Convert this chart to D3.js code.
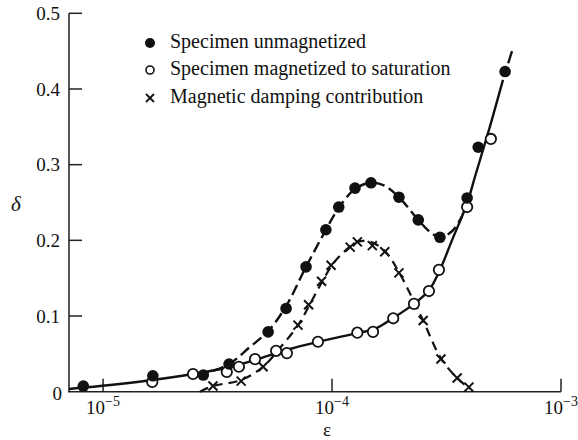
<!DOCTYPE html>
<html><head><meta charset="utf-8">
<script src="https://cdn.jsdelivr.net/npm/d3@7"></script>
<style>body{margin:0;background:#fff}svg{display:block}svg text{font-family:'Liberation Serif','Times New Roman',Times,Tinos,'DejaVu Serif','Noto Serif',serif;fill:#111}</style>
</head><body><svg id="c" width="578" height="440"></svg>
<script>
// Data points [epsilon, delta]
const unmagnetized = [[8.2e-6,0.0075],[1.65e-5,0.021],[2.74e-5,0.022],[3.55e-5,0.0366],[5.26e-5,0.079],[6.3e-5,0.110],[7.7e-5,0.165],[9.4e-5,0.214],[1.07e-4,0.244],[1.26e-4,0.269],[1.48e-4,0.276],[1.96e-4,0.257],[2.38e-4,0.227],[2.96e-4,0.204],[3.89e-4,0.256],[4.35e-4,0.323],[5.7e-4,0.423]];
const magnetized = [[1.64e-5,0.0128],[2.47e-5,0.0234],[3.47e-5,0.026],[3.92e-5,0.033],[4.61e-5,0.043],[5.7e-5,0.054],[6.35e-5,0.051],[8.68e-5,0.066],[1.29e-4,0.078],[1.51e-4,0.079],[1.85e-4,0.097],[2.28e-4,0.116],[2.65e-4,0.133],[2.93e-4,0.161],[3.89e-4,0.244],[4.94e-4,0.334]];
const damping = [[3.02e-5,0.0075],[4.01e-5,0.014],[5.0e-5,0.033],[7.1e-5,0.088],[7.9e-5,0.115],[9.0e-5,0.146],[9.9e-5,0.167],[1.2e-4,0.191],[1.29e-4,0.198],[1.5e-4,0.193],[1.7e-4,0.185],[1.96e-4,0.157],[2.5e-4,0.094],[2.99e-4,0.0432],[3.52e-4,0.018],[3.96e-4,0.006]];
// Fitted curves
const solidCurve = [[7.1e-6,0.0036],[9.7e-6,0.0075],[1.64e-5,0.0155],[2.47e-5,0.0234],[3.59e-5,0.0326],[4.61e-5,0.0419],[6.56e-5,0.0564],[8.69e-5,0.0657],[1.29e-4,0.0775],[1.54e-4,0.083],[1.85e-4,0.0974],[2.28e-4,0.116],[2.65e-4,0.134],[2.96e-4,0.161],[3.34e-4,0.200],[3.89e-4,0.249],[4.21e-4,0.284],[4.9e-4,0.351],[5.58e-4,0.412]];
const solidTail = [[5.88e-4,0.434],[6.11e-4,0.450]];
const unmagCurve = [[2.6e-5,0.0207],[3.55e-5,0.0366],[4.38e-5,0.0591],[5.26e-5,0.080],[6.3e-5,0.113],[7.7e-5,0.165],[9.41e-5,0.214],[1.07e-4,0.243],[1.26e-4,0.268],[1.48e-4,0.276],[1.7e-4,0.272],[1.96e-4,0.257],[2.38e-4,0.227],[2.68e-4,0.211],[2.96e-4,0.204],[3.34e-4,0.212],[3.7e-4,0.232]];
const dampCurve = [[2.65e-5,0.0],[3.02e-5,0.0075],[4.01e-5,0.0155],[5.0e-5,0.033],[5.93e-5,0.058],[7.11e-5,0.088],[8.02e-5,0.116],[9.04e-5,0.145],[1.01e-4,0.169],[1.14e-4,0.186],[1.29e-4,0.198],[1.47e-4,0.198],[1.7e-4,0.186],[1.96e-4,0.158],[2.23e-4,0.125],[2.5e-4,0.094],[2.99e-4,0.044],[3.52e-4,0.018],[4.01e-4,0.0036]];
const yTicks = [0.1,0.2,0.3,0.4,0.5];
const yTickLabels = ["0.1","0.2","0.3","0.4","0.5"];
const xTicks = [1e-5,1e-4,1e-3];
const xTickExp = ["\u22125","\u22124","\u22123"];
const legendLabels = ["Specimen unmagnetized","Specimen magnetized to saturation","Magnetic damping contribution"];

const svg = d3.select("#c");
const x = d3.scaleLog().domain([7.1e-6,1e-3]).range([69,561]);
const y = d3.scaleLinear().domain([0,0.5]).range([391.7,13.3]);

// axes
svg.append("line").attr("x1",69).attr("x2",69).attr("y1",y(0.5)).attr("y2",y(0)).attr("stroke","#555").attr("stroke-width",2);
svg.append("line").attr("x1",68).attr("x2",x(1e-3)).attr("y1",y(0)).attr("y2",y(0)).attr("stroke","#222").attr("stroke-width",1.6);
const gy = svg.append("g");
yTicks.forEach((t,i)=>{
  gy.append("line").attr("x1",69).attr("x2",82).attr("y1",y(t)).attr("y2",y(t)).attr("stroke","#222").attr("stroke-width",1.5);
  gy.append("text").attr("x",60).attr("y",y(t)).attr("dy","0.35em").attr("text-anchor","end").attr("font-size",19).text(yTickLabels[i]);
});
gy.append("text").attr("x",62).attr("y",y(0)+2).attr("dy","0.35em").attr("text-anchor","end").attr("font-size",19).text("0");
const gx = svg.append("g");
xTicks.forEach((t,i)=>{
  gx.append("line").attr("x1",x(t)).attr("x2",x(t)).attr("y1",y(0)).attr("y2",y(0)-13).attr("stroke","#222").attr("stroke-width",1.5);
  const tx = gx.append("text").attr("x",x(t)).attr("y",414).attr("text-anchor","middle").attr("font-size",19);
  tx.append("tspan").text("10");
  tx.append("tspan").attr("dy",-8).attr("font-size",14).text(xTickExp[i]);
});
svg.append("text").attr("x",16).attr("y",211).attr("text-anchor","middle").attr("font-size",21).attr("font-style","italic").text("\u03b4");
svg.append("text").attr("x",327).attr("y",436).attr("text-anchor","middle").attr("font-size",19).text("\u03b5");

// curves
const line = d3.line().x(d=>x(d[0])).y(d=>y(d[1])).curve(d3.curveCatmullRom.alpha(0.5));
svg.append("path").attr("d",line(solidCurve)).attr("fill","none").attr("stroke","#111").attr("stroke-width",2.4);
svg.append("path").attr("d",line(solidTail)).attr("fill","none").attr("stroke","#111").attr("stroke-width",2.4);
svg.append("path").attr("d",line(unmagCurve)).attr("fill","none").attr("stroke","#111").attr("stroke-width",2.4).attr("stroke-dasharray","11,5");
svg.append("path").attr("d",line(dampCurve)).attr("fill","none").attr("stroke","#111").attr("stroke-width",2.2).attr("stroke-dasharray","9,6");

// markers
function cross(g,cx,cy,s,w){
  g.append("path").attr("d",`M${cx-s},${cy-s}L${cx+s},${cy+s}M${cx-s},${cy+s}L${cx+s},${cy-s}`).attr("stroke","#111").attr("stroke-width",w).attr("fill","none");
}
const gm = svg.append("g");
damping.forEach(d=>cross(gm,x(d[0]),y(d[1]),4.5,2));
magnetized.forEach(d=>gm.append("circle").attr("cx",x(d[0])).attr("cy",y(d[1])).attr("r",5.2).attr("fill","#fff").attr("stroke","#111").attr("stroke-width",1.8));
unmagnetized.forEach(d=>gm.append("circle").attr("cx",x(d[0])).attr("cy",y(d[1])).attr("r",5.8).attr("fill","#111"));

// legend
const lg = svg.append("g");
const ly = [43,70,98];
lg.append("circle").attr("cx",150).attr("cy",ly[0]).attr("r",5).attr("fill","#111");
lg.append("circle").attr("cx",150).attr("cy",ly[1]).attr("r",4).attr("fill","#fff").attr("stroke","#111").attr("stroke-width",1.6);
cross(lg,150,ly[2],4,1.8);
legendLabels.forEach((t,i)=>lg.append("text").attr("x",170).attr("y",ly[i]+5).attr("font-size",20).text(t));
</script></body></html>
